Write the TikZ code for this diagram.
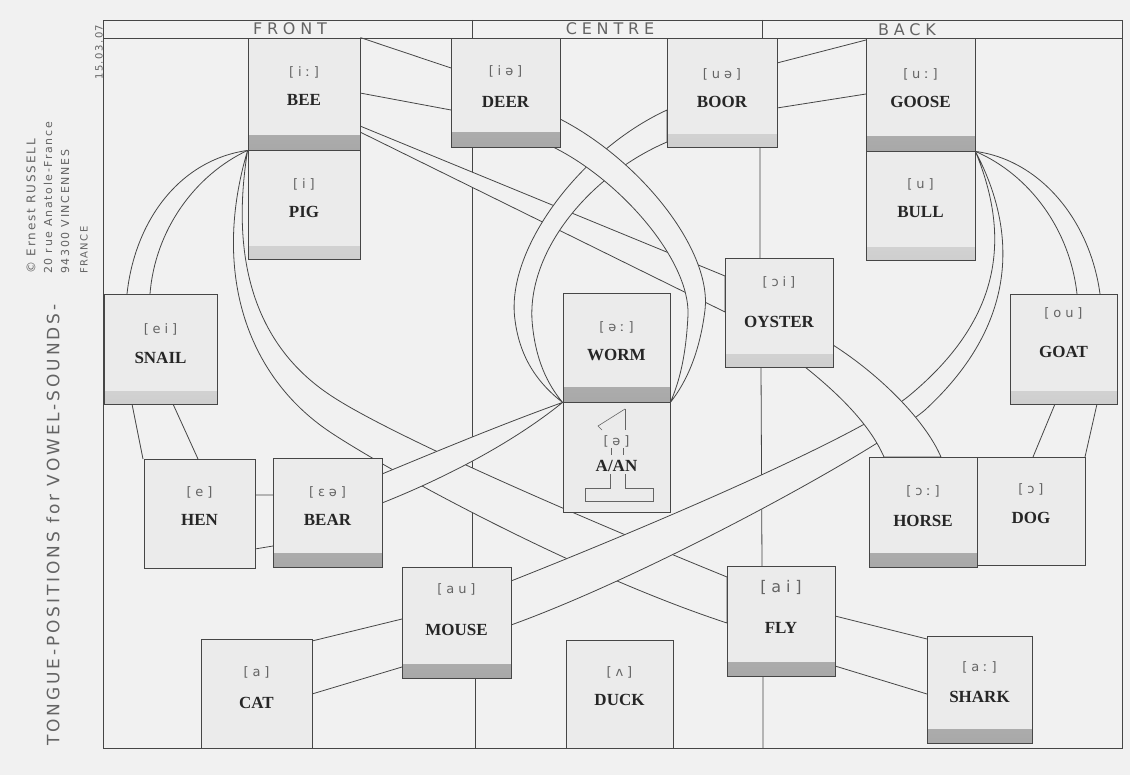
\documentclass[tikz,border=0pt]{standalone}
\usepackage{fontspec}
\setmainfont{Liberation Serif}
\newfontfamily\ipafont[LetterSpace=30]{DejaVu Sans}
\newfontfamily\handfont[LetterSpace=30]{DejaVu Sans}
\newfontfamily\titlefont[LetterSpace=17]{DejaVu Sans}
\newfontfamily\notefont[LetterSpace=15]{DejaVu Sans}
\usetikzlibrary{fit,calc}
\pgfdeclarelayer{bg}
\pgfsetlayers{bg,main}
\definecolor{paper}{RGB}{241,241,241}
\definecolor{boxfill}{RGB}{235,235,235}
\definecolor{ink}{RGB}{70,70,70}
\definecolor{banddark}{RGB}{168,168,168}
\definecolor{bandmid}{RGB}{196,196,196}
\definecolor{bandlight}{RGB}{206,206,206}
\definecolor{pencil}{RGB}{100,100,100}
\tikzset{
  ln/.style={draw=ink, line width=0.8pt},
  vb/.style={draw=ink, line width=0.8pt, fill=boxfill, inner sep=0pt, rectangle},
  darkband/.style={path picture={\shade[top color=bandmid, bottom color=banddark]
     (path picture bounding box.south west) rectangle ([yshift=14pt]path picture bounding box.south east);}},
  lightband/.style={path picture={\shade[top color=boxfill, bottom color=bandlight]
     (path picture bounding box.south west) rectangle ([yshift=12pt]path picture bounding box.south east);}},
  noband/.style={},
  ipa/.style={font=\ipafont\fontsize{13}{15}\selectfont, text=pencil, inner sep=0pt},
  word/.style={font=\fontsize{17}{20}\selectfont\bfseries, text=black!85, inner sep=0pt},
  band/.style={draw=ink, line width=0.8pt, fill=paper},
  hand/.style={font=\handfont\fontsize{16}{18}\selectfont, text=pencil, inner sep=0pt},
  note/.style={text=pencil, inner sep=0pt, rotate=90, anchor=west},
  sketch/.style={draw=pencil, line width=0.6pt},
}
\newcommand\vowelbox[7]{%
  \node[vb,#3,fit={#2}] (#1) {};
  \node[ipa] (#1-i) at ([yshift=-#4pt]#1.north) {#5};
  \node[word] (#1-w) at ([yshift=-#6pt]#1.north) {#7};
}
\begin{document}
\begin{tikzpicture}[x=1pt,y=-1pt]
\useasboundingbox (0,0) rectangle (1130,775);

% ---------- boxes ----------
\vowelbox{bee}{(248,38) (360,150)}{darkband}{35}{[iː]}{62}{BEE}
\vowelbox{pig}{(248,150) (360,259)}{lightband}{35}{[i]}{62}{PIG}
\vowelbox{deer}{(451,38) (560,147)}{darkband}{34}{[iə]}{64}{DEER}
\vowelbox{boor}{(667,38) (777,147)}{lightband}{37}{[uə]}{64}{BOOR}
\vowelbox{goose}{(866,38) (975,151)}{darkband}{37}{[uː]}{64}{GOOSE}
\vowelbox{bull}{(866,151) (975,260)}{lightband}{34}{[u]}{61}{BULL}
\vowelbox{snail}{(104,294) (217,404)}{lightband}{36}{[ei]}{64}{SNAIL}
\vowelbox{worm}{(563,293) (670,402)}{darkband}{35}{[əː]}{62}{WORM}
\vowelbox{aan}{(563,402) (670,512)}{noband}{40}{[ə]}{64}{A/AN}
\vowelbox{oyster}{(725,258) (833,367)}{lightband}{25}{[ɔi]}{64}{OYSTER}
\vowelbox{goat}{(1010,294) (1117,404)}{lightband}{20}{[ou]}{58}{GOAT}
\vowelbox{hen}{(144,459) (255,568)}{noband}{34}{[e]}{61}{HEN}
\vowelbox{bear}{(273,458) (382,567)}{darkband}{35}{[ɛə]}{62}{BEAR}
\vowelbox{horse}{(869,457) (977,567)}{darkband}{35}{[ɔː]}{64}{HORSE}
\vowelbox{dog}{(977,457) (1085,565)}{noband}{33}{[ɔ]}{61}{DOG}
\vowelbox{mouse}{(402,567) (511,678)}{darkband}{23}{[au]}{63}{MOUSE}
\vowelbox{fly}{(727,566) (835,676)}{darkband}{22}{\fontsize{16}{18}\selectfont[ai]}{62}{FLY}
\vowelbox{cat}{(201,639) (312,748)}{noband}{34}{[a]}{64}{CAT}
\vowelbox{duck}{(566,640) (673,748)}{noband}{33}{[ʌ]}{60}{DUCK}
\vowelbox{shark}{(927,636) (1032,743)}{darkband}{32}{[aː]}{61}{SHARK}

% the "1" sketched in the A/AN box
\path[sketch] (625,409) -- (598,426) -- (602,430);
\path[sketch] (625,409) -- (625,430);
\path[sketch] (611,448) -- (611,455) (623,448) -- (623,455);
\path[sketch] (610,474) -- (610,488) -- (585,488) -- (585,501) -- (653,501) -- (653,488) -- (625,488) -- (625,474);

% ---------- header and margin texts ----------
\node[hand] (front) at (290,29) {FRONT};
\node[hand] (centre) at (610,29) {CENTRE};
\node[hand] (back) at (907,30) {BACK};
\node[note, font=\titlefont\fontsize{17}{19}\selectfont] (title) at (53,746) {TONGUE-POSITIONS for VOWEL-SOUNDS-};
\node[note, font=\notefont\fontsize{12}{13}\selectfont] (c1) at (31,274) {© Ernest RUSSELL};
\node[note, font=\notefont\fontsize{11}{12}\selectfont] (c2) at (48,274) {20 rue Anatole-France};
\node[note, font=\notefont\fontsize{11}{12}\selectfont] (c3) at (65,274) {94300 VINCENNES};
\node[note, font=\notefont\fontsize{10}{11}\selectfont] (c4) at (84,274) {FRANCE};
\node[note, font=\notefont\fontsize{10}{11}\selectfont] (c5) at (99,80) {15.03.07};

% ---------- named end points ----------
\coordinate (beeC) at (bee.south west);
\coordinate (gooseC) at (goose.south east);
\coordinate (wormL) at (worm.south west);
\coordinate (wormR) at (worm.south east);
\coordinate (beeT) at (bee.north east);
\coordinate (beeD) at (360,93);
\coordinate (deerA) at (451,68);
\coordinate (deerB) at (451,110);
\coordinate (boorA) at (777,63);
\coordinate (boorB) at (777,108);
\coordinate (gooseA) at (866,40);
\coordinate (gooseB) at (866,94);
\coordinate (beeR1) at (360,126);
\coordinate (beeR2) at (360,132);
\coordinate (oysL1) at (725,276);
\coordinate (oysL2) at (725,312);
\coordinate (boorL1) at (667,110);
\coordinate (boorL2) at (667,142);
\coordinate (deerR1) at (560,119);
\coordinate (deerR2) at (553,147);
\coordinate (flyL1) at (727,577);
\coordinate (flyL2) at (727,623);
\coordinate (mouseR1) at (511,581);
\coordinate (mouseR2) at (511,625);
\coordinate (bearR1) at (382,474);
\coordinate (bearR2) at (382,503);
\coordinate (oysR) at (833,345);
\coordinate (oysB) at (805,367);
\coordinate (horseT1) at (884,457);
\coordinate (horseT2) at (941,457);
\coordinate (snT1) at (127,294);
\coordinate (snT2) at (150,294);
\coordinate (goT1) at (1077,294);
\coordinate (goT2) at (1100,294);
\coordinate (snB1) at (132,404);
\coordinate (snB2) at (173,404);
\coordinate (henT1) at (143,459);
\coordinate (henT2) at (198,459);
\coordinate (goB1) at (1055,404);
\coordinate (goB2) at (1097,404);
\coordinate (dogT1) at (1033,457);
\coordinate (dogT2) at (1085,457);
\coordinate (henR1) at (255,495);
\coordinate (henR2) at (255,549);
\coordinate (bearL1) at (273,495);
\coordinate (bearL2) at (273,546);
\coordinate (catR1) at (312,641);
\coordinate (catR2) at (312,694);
\coordinate (mouseL1) at (402,619);
\coordinate (mouseL2) at (402,667);
\coordinate (flyR1) at (835,616);
\coordinate (flyR2) at (835,666);
\coordinate (sharkL1) at (927,639);
\coordinate (sharkL2) at (927,694);
% frame corners and column lines
\coordinate (fTL) at (103,20);
\coordinate (fBR) at (1122,748);
\coordinate (hL) at (103,38);
\coordinate (hR) at (1122,38);
\coordinate (d1t) at (472,20);
\coordinate (d1b) at (472,38);
\coordinate (d2t) at (762,20);
\coordinate (d2b) at (762,38);
\coordinate (v1a) at (472,147);
\coordinate (v1b) at (472,567);
\coordinate (v1c) at (475,678);
\coordinate (v1d) at (475,748);
\coordinate (v2a) at (760,147);
\coordinate (v2b) at (760,258);
\coordinate (v2c) at (761,367);
\coordinate (v2d) at (762,566);
\coordinate (v2e) at (763,676);
\coordinate (v2f) at (763,748);

\begin{pgfonlayer}{bg}
  \fill[paper] (0,0) rectangle (1130,775);
  % frame
  \draw[ln] (fTL) rectangle (fBR);
  \draw[ln] (hL) -- (hR);
  \draw[ln] (d1t) -- (d1b) (d2t) -- (d2b);
  \draw[ln] (v1a) -- (v1b) (v1c) -- (v1d);
  \draw[ln] (v2a) -- (v2b) (v2c) -- (v2d) (v2e) -- (v2f);
  % short straight connectors
  \draw[ln] (beeT) -- (deerA) (beeD) -- (deerB);
  \draw[ln] (boorA) -- (gooseA) (boorB) -- (gooseB);
  \draw[ln] (snB1) -- (henT1) (snB2) -- (henT2);
  \draw[ln] (goB1) -- (dogT1) (goB2) -- (dogT2);
  \draw[ln] (henR1) -- (bearL1) (henR2) -- (bearL2);
  \draw[ln] (catR1) -- (mouseL1) (catR2) -- (mouseL2);
  \draw[ln] (flyR1) -- (sharkL1) (flyR2) -- (sharkL2);
  % BEE - OYSTER band
  \path[band] (beeR1) -- (oysL1) -- (oysL2) -- (beeR2) -- cycle;
  % BOOR - WORM band
  \path[band] (boorL1) .. controls (580,150) and (505,250) .. (515,320)
      .. controls (520,360) and (540,385) .. (wormL)
      .. controls (548,385) and (535,360) .. (532,320)
      .. controls (528,250) and (590,175) .. (boorL2) -- cycle;
  % DEER - WORM band
  \path[band] (deerR1) .. controls (640,160) and (712,250) .. (705,310)
      .. controls (700,350) and (688,380) .. (wormR)
      .. controls (680,380) and (686,355) .. (688,315)
      .. controls (690,260) and (620,180) .. (deerR2) -- (deer.south east) -- cycle;
  % BEE - FLY band
  \path[band] (beeC) .. controls (230,260) and (255,345) .. (330,395)
      .. controls (385,432) and (560,509) .. (flyL1) -- (flyL2)
      .. controls (580,575) and (390,472) .. (330,432)
      .. controls (245,375) and (212,270) .. (beeC) -- cycle;
  % WORM - BEAR band
  \path[band] (wormL) .. controls (500,425) and (440,450) .. (bearR1) -- (bearR2)
      .. controls (440,480) and (510,445) .. (wormL) -- cycle;
  % GOOSE - MOUSE band
  \path[band] (gooseC) .. controls (1012,240) and (1000,320) .. (910,395)
      .. controls (860,437) and (640,530) .. (mouseR1) -- (mouseR2)
      .. controls (650,575) and (875,452) .. (925,410)
      .. controls (1012,330) and (1022,240) .. (gooseC) -- cycle;
  % OYSTER - HORSE band
  \path[band] (oysR) .. controls (880,375) and (925,420) .. (horseT2) -- (horseT1)
      .. controls (870,425) and (840,395) .. (oysB) -- (oyster.south east) -- cycle;
  % BEE - SNAIL and GOOSE - GOAT curves
  \draw[ln] (beeC) .. controls (180,160) and (135,220) .. (snT1);
  \draw[ln] (beeC) .. controls (195,175) and (155,230) .. (snT2);
  \draw[ln] (gooseC) .. controls (1040,160) and (1090,220) .. (goT2);
  \draw[ln] (gooseC) .. controls (1030,175) and (1070,230) .. (goT1);
\end{pgfonlayer}
\end{tikzpicture}
\end{document}
